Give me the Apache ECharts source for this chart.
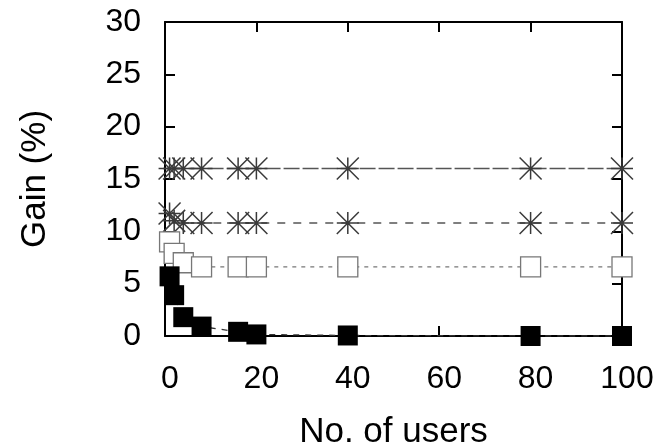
<!DOCTYPE html>
<html>
<head>
<meta charset="utf-8">
<script src="https://cdn.jsdelivr.net/npm/echarts@6/dist/echarts.min.js"></script>
<style>
  html, body { margin: 0; padding: 0; background: #fff; }
  #chart { width: 663px; height: 448px; }
</style>
</head>
<body>
<div id="chart"></div>
<script>
// Number of users on the x axis
const users = [1, 2, 4, 8, 16, 20, 40, 80, 100];

// Gain (%) for each configuration
const gainStarSolid  = [16.0, 16.0, 16.0, 16.0, 16.0, 16.0, 16.0, 16.0, 16.0];
const gainStarDashed = [11.7, 11.0, 10.8, 10.8, 10.8, 10.8, 10.8, 10.8, 10.8];
const gainOpenSquare = [9.0, 7.9, 7.0, 6.6, 6.6, 6.6, 6.6, 6.6, 6.6];
const gainFilledSquare = [5.7, 3.9, 1.8, 0.9, 0.4, 0.15, 0.05, 0.0, 0.0];

const xTicks = [0, 20, 40, 60, 80, 100];
const yTicks = [0, 5, 10, 15, 20, 25, 30];

const FONT = '"Liberation Sans", Arial, Helvetica, sans-serif';
const toPairs = (ys) => users.map((u, i) => [u, ys[i]]);

// Asterisk marker: plus and cross drawn as strokes
const asterisk = 'path://M0,0L20,20M20,0L0,20M10,0L10,20M0,10L20,10';

const chart = echarts.init(document.getElementById('chart'), null, { renderer: 'canvas' });

const axisLineStyle = { show: true, onZero: false, lineStyle: { color: '#000', width: 2 } };
const tickStyle = { show: true, inside: true, length: 10, lineStyle: { color: '#000', width: 2 } };

chart.setOption({
  animation: false,
  backgroundColor: '#fff',
  grid: { left: 165, right: 41, top: 22, bottom: 112, containLabel: false, outerBoundsMode: 'none' },
  xAxis: [
    {
      type: 'value', position: 'bottom',
      min: xTicks[0], max: xTicks[xTicks.length - 1], interval: 20,
      axisLine: axisLineStyle, axisTick: tickStyle, splitLine: { show: false },
      axisLabel: { color: '#000', fontSize: 32, fontFamily: FONT, margin: 27, padding: [0, 0, 0, 10] },
      name: 'No. of users', nameLocation: 'middle', nameGap: 79,
      nameTextStyle: { color: '#000', fontSize: 35, fontFamily: FONT }
    },
    {
      type: 'value', position: 'top',
      min: xTicks[0], max: xTicks[xTicks.length - 1], interval: 20,
      axisLine: axisLineStyle, axisTick: tickStyle, splitLine: { show: false },
      axisLabel: { show: false }
    }
  ],
  yAxis: [
    {
      type: 'value', position: 'left',
      min: yTicks[0], max: yTicks[yTicks.length - 1], interval: 5,
      axisLine: axisLineStyle, axisTick: tickStyle, splitLine: { show: false },
      axisLabel: { color: '#000', fontSize: 32, fontFamily: FONT, margin: 24 },
      name: 'Gain (%)', nameLocation: 'middle', nameGap: 112, nameRotate: 90,
      nameTextStyle: { color: '#000', fontSize: 35, fontFamily: FONT }
    },
    {
      type: 'value', position: 'right',
      min: yTicks[0], max: yTicks[yTicks.length - 1], interval: 5,
      axisLine: axisLineStyle, axisTick: tickStyle, splitLine: { show: false },
      axisLabel: { show: false }
    }
  ],
  series: [
    {
      type: 'line', data: toPairs(gainStarSolid),
      symbol: asterisk, symbolSize: 22,
      itemStyle: { color: 'transparent', borderColor: '#3a3a3a', borderWidth: 1.5 },
      lineStyle: { color: '#555', width: 1.5, type: [16, 3] }
    },
    {
      type: 'line', data: toPairs(gainStarDashed),
      symbol: asterisk, symbolSize: 22,
      itemStyle: { color: 'transparent', borderColor: '#3a3a3a', borderWidth: 1.5 },
      lineStyle: { color: '#555', width: 1.5, type: [8, 8] }
    },
    {
      type: 'line', data: toPairs(gainOpenSquare),
      symbol: 'rect', symbolSize: 20,
      itemStyle: { color: '#fff', borderColor: '#777', borderWidth: 1.3 },
      lineStyle: { color: '#777', width: 1.3, type: [4, 5] }
    },
    {
      type: 'line', data: toPairs(gainFilledSquare),
      symbol: 'rect', symbolSize: 20,
      itemStyle: { color: '#000', borderColor: '#000', borderWidth: 0 },
      lineStyle: { color: '#333', width: 1.3, type: [6, 6] }
    }
  ]
});
</script>
</body>
</html>
